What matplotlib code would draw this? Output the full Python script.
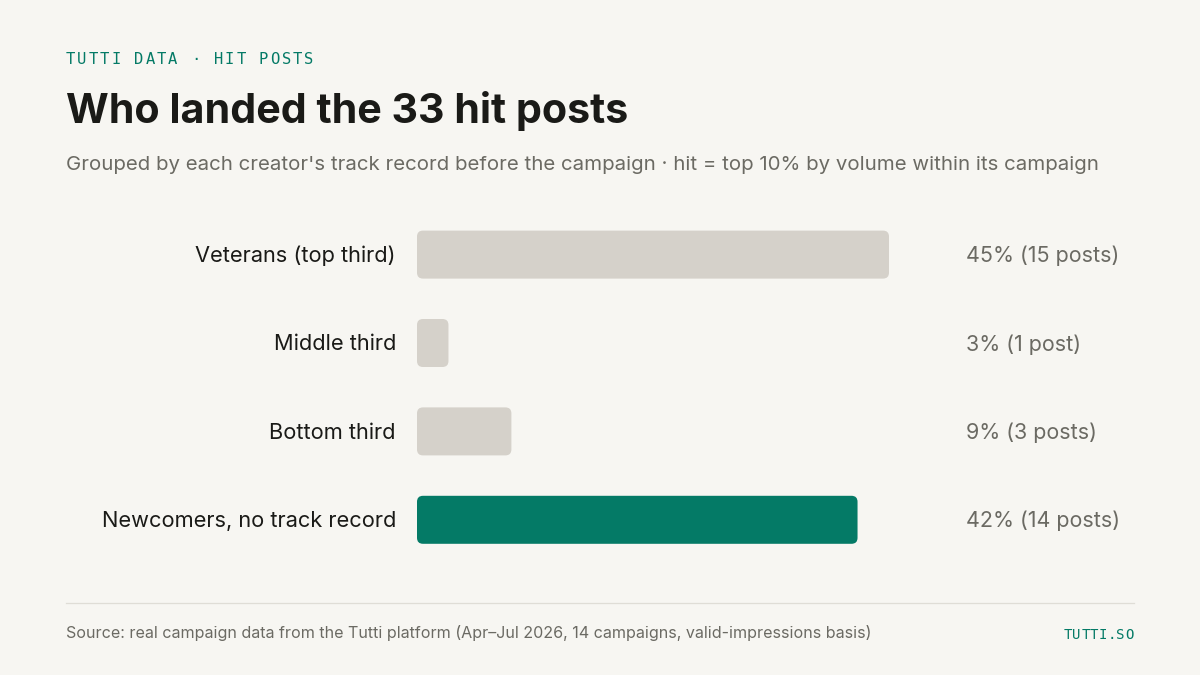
import matplotlib
matplotlib.use("Agg")
import matplotlib.pyplot as plt
from matplotlib.patches import FancyBboxPatch
from matplotlib.text import Text
from matplotlib.transforms import Bbox, IdentityTransform

categories = ["Veterans (top third)", "Middle third", "Bottom third", "Newcomers, no track record"]
posts = [15, 1, 3, 14]
value_labels = ["45% (15 posts)", "3% (1 post)", "9% (3 posts)", "42% (14 posts)"]
eyebrow = "TUTTI DATA · HIT POSTS"
title = "Who landed the 33 hit posts"
subtitle = "Grouped by each creator's track record before the campaign · hit = top 10% by volume within its campaign"
source = "Source: real campaign data from the Tutti platform (Apr–Jul 2026, 14 campaigns, valid-impressions basis)"
brand = "TUTTI.SO"

BG, GREY, GREEN, INK, MUTED = "#f7f6f2", "#d5d1ca", "#047a66", "#1a1a17", "#6b6a63"
W, H = 1200, 675
SANS = ["Inter", "DejaVu Sans"]
MONO = ["DejaVu Sans Mono"]

fig = plt.figure(figsize=(W / 100, H / 100), dpi=100, facecolor=BG)
def px(v):
    return v * 72 / 100

class Tracked(Text):
    """Single text object drawn with CSS-like letter spacing (px advance per char)."""
    def __init__(self, *a, advance=10, **k):
        super().__init__(*a, **k)
        self.advance = advance
    def get_window_extent(self, renderer=None, dpi=None):
        x, y = self.get_transform().transform(self.get_position())
        n = len(self.get_text())
        w = self.advance * n
        x0 = x - w if self.get_ha() == "right" else x
        return Bbox.from_extents(x0, y - 8, x0 + w, y + 8)
    def draw(self, renderer):
        x, y = self.get_transform().transform(self.get_position())
        s = self.get_text()
        if self.get_ha() == "right":
            x -= self.advance * len(s)
        for i, ch in enumerate(s):
            t = Text(x + i * self.advance, y, ch, transform=IdentityTransform(),
                     color=self.get_color(), fontsize=self.get_fontsize(),
                     family=self.get_fontfamily(), weight=self.get_fontweight(),
                     ha="left", va="center_baseline")
            t.set_figure(self.get_figure())
            t.draw(renderer)

def fx(x): return x / W
def fy(y): return 1 - y / H

def tracked(x, y, s, size, advance, ha="left"):
    t = Tracked(fx(x), fy(y), s, advance=advance, transform=fig.transFigure, color=GREEN,
                fontsize=px(size), family=MONO, ha=ha, va="center")
    fig.add_artist(t)

tracked(66, 57.5, eyebrow, 15.5, 11.35)
fig.text(fx(66), fy(123), title, fontsize=px(41.2), weight="bold", family=SANS, color=INK, ha="left", va="baseline")
fig.text(fx(66), fy(170), subtitle, fontsize=px(20.4), family=SANS, color=MUTED, ha="left", va="baseline")

# plot axes: x 0..15 posts spans 417..889 px
ax = fig.add_axes([fx(417), fy(564), 472 / W, 353.6 / H])
ax.set_xlim(0, 15)
ax.set_ylim(3.5, -0.5)
ax.axis("off")
bar_h = 48 / 88.4
for i, (c, p, v) in enumerate(zip(categories, posts, value_labels)):
    ax.add_patch(FancyBboxPatch((0, i - bar_h / 2), p, bar_h,
                                boxstyle=f"round,pad=0,rounding_size={6 * 15 / 472}",
                                mutation_aspect=(1 / 88.4) / (15 / 472),
                                fc=GREEN if i == 3 else GREY, ec="none"))
    ax.annotate(c, (0, i), xytext=(-21 * 0.72, 0.4), textcoords="offset points",
                ha="right", va="center_baseline", fontsize=px(21.8), family=SANS, color=INK)
    ax.annotate(v, (15, i), xytext=(77 * 0.72, 0.4), textcoords="offset points",
                ha="left", va="center_baseline", fontsize=px(21.5), family=SANS, color=MUTED)

fig.add_artist(plt.Line2D([fx(66), fx(1134)], [fy(603)] * 2, color="#dfddd6", lw=0.9))
fig.text(fx(66), fy(638), source, fontsize=px(16.06), family=SANS, color=MUTED, ha="left", va="baseline")
tracked(1134, 633.5, brand, 14, 8.8, ha="right")

fig.savefig("out.png", dpi=100, facecolor=BG)
